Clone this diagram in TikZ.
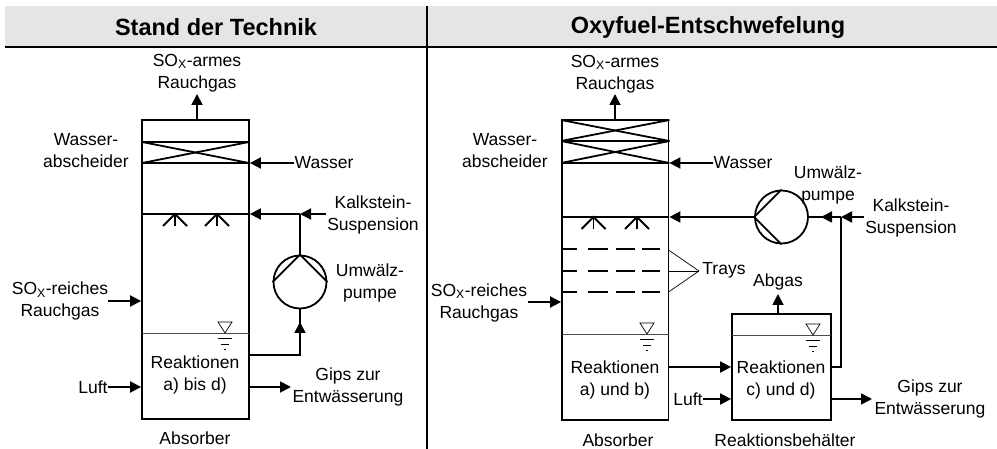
\documentclass[tikz,border=0pt]{standalone}
\usepackage{fontspec}
\setmainfont{Liberation Sans}
\usetikzlibrary{arrows.meta,calc}
\tikzset{
  x=1pt,y=-1pt,
  lbl/.style={inner sep=0pt,align=center,font=\fontsize{17.5}{22}\selectfont},
  head/.style={inner sep=0pt,font=\fontsize{23.5}{26}\selectfont\bfseries},
  vessel/.style={draw,line width=1.8pt,minimum width=#1,inner sep=0pt,rectangle},
  flow/.style={line width=1.8pt,-{Triangle[length=11pt,width=11pt]}},
  pipe/.style={line width=1.8pt},
  thinl/.style={line width=0.7pt},
  pump/.style={draw,circle,line width=1.8pt,minimum size=53pt,inner sep=0pt},
}
\newcommand{\lvl}[2]{%
  \draw[line width=0.7pt] (#1-7,#2-11) -- (#1+7,#2-11) -- (#1,#2) -- cycle;
  \draw[line width=0.7pt] (#1-7,#2+5) -- (#1+7,#2+5);
  \draw[line width=0.7pt] (#1-4,#2+11) -- (#1+4,#2+11);
  \draw[line width=0.7pt] (#1-1,#2+16) -- (#1+1,#2+16);
}
\newcommand{\spray}[2]{%
  \draw[pipe] (#1,#2) -- (#1,#2+12);
  \draw[pipe] (#1-12,#2+12) -- (#1,#2) -- (#1+12,#2+12);
}
\begin{document}
\begin{tikzpicture}
\useasboundingbox (0,0) rectangle (997,449);
% headers
\fill[gray!20] (5,6) rectangle (997,46);
\draw[line width=2pt] (5,47) -- (997,47);
\draw[line width=2pt] (426.5,6) -- (426.5,449);
\node[head] (h1) at (216,27) {Stand der Technik};
\node[head] (h2) at (708,27) {Oxyfuel-Entschwefelung};

% ---------- left
\node[vessel=107pt,minimum height=299pt] (A) at (195.5,269.5) {};
\draw[pipe] (A.west |- 0,142) -- (A.east |- 0,142);
\draw[pipe] (A.west |- 0,163) -- (A.east |- 0,163);
\draw[pipe] (142,142) -- (249,163);
\draw[pipe] (142,163) -- (249,142);
\draw[pipe] (142,214) -- (249,214);
\spray{175}{214}
\spray{217}{214}
\draw[thinl,black!70] (142,333.5) -- (249,333.5);
\lvl{225}{333}
\node[lbl] (t1) at (197,73) {SO\textsubscript{X}-armes\\Rauchgas};
\coordinate (a1) at (197,94);
\draw[flow] (A.north -| a1) -- (a1);
\node[lbl] (t2) at (86,151) {Wasser-\\abscheider};
\node[lbl] (t3) at (324,163) {Wasser};
\draw[flow] (t3.west) -- (A.east |- t3.west);
\node[lbl] (t4) at (373,214.5) {Kalkstein-\\Suspension};
\node[pump] (P) at (300,282) {};
\coordinate (j1) at (300,214);
\coordinate (k1) at (326,214);
\draw[flow] (k1) -- (j1);
\draw[flow] (j1) -- (A.east |- j1);
\draw[pipe] (j1) -- (P.north);
\draw[pipe] (P.west) -- (P.north) -- (P.east);
\coordinate (o1) at (249,355);
\coordinate (o2) at (300,322);
\draw[pipe] (o1) -| (P.south);
\draw[flow] (o1 -| o2) -- (o2);
\node[lbl] (t5) at (370,283) {Umwälz-\\pumpe};
\node[lbl] (t6) at (60,301) {SO\textsubscript{X}-reiches\\Rauchgas};
\coordinate (s1) at (108,301);
\draw[flow] (s1) -- (A.west |- s1);
\node[lbl] (t7) at (195,375) {Reaktionen\\a) bis d)};
\node[lbl] (t8) at (93,387) {Luft};
\draw[flow] (t8.east) -- (A.west |- t8.east);
\node[lbl] (t9) at (348,387) {Gips zur\\Entwässerung};
\coordinate (g1) at (291,387);
\draw[flow] (A.east |- g1) -- (g1);
\node[lbl] (t10) at (195,438) {Absorber};

% ---------- right
\node[vessel=106.5pt,minimum height=300pt] (B) at (615.25,270) {};
\foreach \yy in {141,163} \draw[pipe] (B.west |- 0,\yy) -- (B.east |- 0,\yy);
\draw[pipe] (B.west |- 0,120) -- (B.east |- 0,141);
\draw[pipe] (B.west |- 0,141) -- (B.east |- 0,120);
\draw[pipe] (B.west |- 0,141) -- (B.east |- 0,163);
\draw[pipe] (B.west |- 0,163) -- (B.east |- 0,141);
\draw[pipe] (B.west |- 0,217) -- (B.east |- 0,217);
\spray{593.5}{217}
\spray{637}{217}
\foreach \yy in {249,271,292} {
  \draw[pipe] (562,\yy) -- (577,\yy);
  \draw[pipe] (588,\yy) -- (608,\yy);
  \draw[pipe] (616,\yy) -- (635,\yy);
  \draw[pipe] (642,\yy) -- (660,\yy);
}
\draw[thinl,black!70] (562,334) -- (668.5,334);
\lvl{647}{334}
\node[lbl] (r1) at (615,74) {SO\textsubscript{X}-armes\\Rauchgas};
\coordinate (ra) at (615,94);
\draw[flow] (B.north -| ra) -- (ra);
\node[lbl] (r2) at (505,151) {Wasser-\\abscheider};
\node[lbl] (r3) at (743,163) {Wasser};
\draw[flow] (r3.west) -- (B.east |- r3.west);
\node[lbl] (r4) at (911,218) {Kalkstein-\\Suspension};
\node[pump] (Q) at (781.5,217) {};
\coordinate (rk) at (864,217);
\coordinate (rj) at (841,217);
\coordinate (rm) at (821,217);
\draw[flow] (rk) -- (rj);
\draw[pipe] (rj) -- (Q.east);
\draw[flow] (rj) -- (rm);
\draw[flow] (Q.west) -- (B.east |- Q.west);
\draw[pipe] (Q.north) -- (Q.west) -- (Q.south);
\node[lbl] (r5) at (828,185) {Umwälz-\\pumpe};
\node[lbl] (r6) at (724,270) {Trays};
\coordinate (tj) at (699,271);
\draw[thinl] (668.5,250) -- (tj);
\draw[thinl] (668.5,271) -- (tj);
\draw[thinl] (668.5,292) -- (tj);
\node[lbl] (r7) at (479,302.5) {SO\textsubscript{X}-reiches\\Rauchgas};
\coordinate (rs) at (528,302);
\draw[flow] (rs) -- (B.west |- rs);
\node[lbl] (r8) at (615,380) {Reaktionen\\a) und b)};
\node[vessel=99pt,minimum height=106pt] (C) at (781.5,367) {};
\draw[thinl,black!70] (732,335) -- (831,335);
\lvl{813}{335}
\node[lbl] (r9) at (778,282) {Abgas};
\coordinate (rab) at (778,294);
\draw[flow] (C.north -| rab) -- (rab);
\coordinate (rf) at (668.5,367);
\draw[flow] (rf) -- (C.west |- rf);
\node[lbl] (r10) at (781,380) {Reaktionen\\c) und d)};
\node[lbl] (r11) at (688,399) {Luft};
\draw[flow] (r11.east) -- (C.west |- r11.east);
\coordinate (rp) at (831,367);
\draw[pipe] (rp) -| (rj);
\node[lbl] (r12) at (930,399) {Gips zur\\Entwässerung};
\coordinate (rg) at (872,399);
\draw[flow] (C.east |- rg) -- (rg);
\node[lbl] (r13) at (618,440) {Absorber};
\node[lbl] (r14) at (785,440) {Reaktionsbehälter};
\end{tikzpicture}
\end{document}
